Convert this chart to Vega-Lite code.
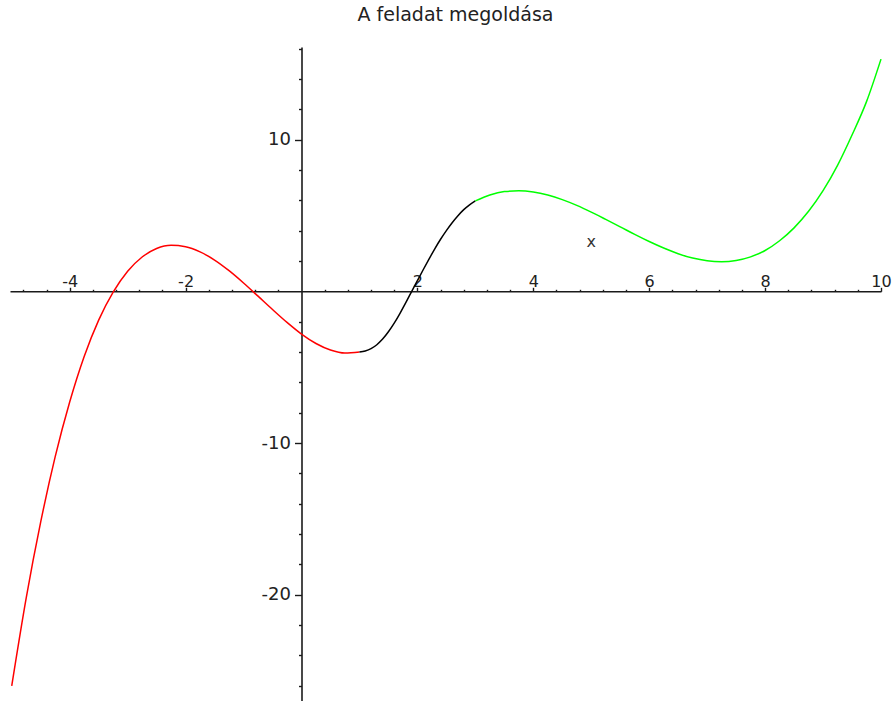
{
  "$schema": "https://vega.github.io/schema/vega-lite/v6.json",
  "width": 871,
  "height": 654,
  "autosize": {"type": "none"},
  "padding": {"left": 10, "top": 47, "right": 14, "bottom": 0},
  "background": "white",
  "title": {
    "text": "A feladat megoldása",
    "font": "DejaVu Sans",
    "fontSize": 19,
    "fontWeight": "normal",
    "color": "#222222",
    "anchor": "middle",
    "dx": 10,
    "offset": 22
  },
  "config": {"view": {"stroke": null}},
  "datasets": {
    "curves": [
      {"seg": "a", "x": -5, "y": -26.0},
      {"seg": "a", "x": -4.75, "y": -20.2},
      {"seg": "a", "x": -4.5, "y": -15.2},
      {"seg": "a", "x": -4.25, "y": -10.9},
      {"seg": "a", "x": -4, "y": -7.3},
      {"seg": "a", "x": -3.75, "y": -4.3},
      {"seg": "a", "x": -3.5, "y": -1.9},
      {"seg": "a", "x": -3.25, "y": -0.06},
      {"seg": "a", "x": -3, "y": 1.32},
      {"seg": "a", "x": -2.75, "y": 2.26},
      {"seg": "a", "x": -2.5, "y": 2.82},
      {"seg": "a", "x": -2.25, "y": 3.03},
      {"seg": "a", "x": -2, "y": 2.94},
      {"seg": "a", "x": -1.75, "y": 2.6},
      {"seg": "a", "x": -1.5, "y": 2.06},
      {"seg": "a", "x": -1.25, "y": 1.36},
      {"seg": "a", "x": -1, "y": 0.55},
      {"seg": "a", "x": -0.75, "y": -0.32},
      {"seg": "a", "x": -0.5, "y": -1.2},
      {"seg": "a", "x": -0.25, "y": -2.05},
      {"seg": "a", "x": 0, "y": -2.82},
      {"seg": "a", "x": 0.25, "y": -3.44},
      {"seg": "a", "x": 0.5, "y": -3.87},
      {"seg": "a", "x": 0.75, "y": -4.07},
      {"seg": "a", "x": 1, "y": -4.0},
      {"seg": "b", "x": 1, "y": -4.0},
      {"seg": "b", "x": 1.1, "y": -3.93},
      {"seg": "b", "x": 1.2, "y": -3.78},
      {"seg": "b", "x": 1.3, "y": -3.52},
      {"seg": "b", "x": 1.4, "y": -3.15},
      {"seg": "b", "x": 1.5, "y": -2.67},
      {"seg": "b", "x": 1.6, "y": -2.1},
      {"seg": "b", "x": 1.7, "y": -1.45},
      {"seg": "b", "x": 1.8, "y": -0.75},
      {"seg": "b", "x": 1.9, "y": -0.02},
      {"seg": "b", "x": 2.0, "y": 0.7},
      {"seg": "b", "x": 2.1, "y": 1.42},
      {"seg": "b", "x": 2.2, "y": 2.12},
      {"seg": "b", "x": 2.3, "y": 2.8},
      {"seg": "b", "x": 2.4, "y": 3.43},
      {"seg": "b", "x": 2.5, "y": 4.0},
      {"seg": "b", "x": 2.6, "y": 4.52},
      {"seg": "b", "x": 2.7, "y": 4.98},
      {"seg": "b", "x": 2.8, "y": 5.38},
      {"seg": "b", "x": 2.9, "y": 5.7},
      {"seg": "b", "x": 3.0, "y": 5.96},
      {"seg": "c", "x": 3.0, "y": 5.96},
      {"seg": "c", "x": 3.25, "y": 6.35},
      {"seg": "c", "x": 3.5, "y": 6.57},
      {"seg": "c", "x": 3.75, "y": 6.62},
      {"seg": "c", "x": 4.0, "y": 6.54},
      {"seg": "c", "x": 4.25, "y": 6.34},
      {"seg": "c", "x": 4.5, "y": 6.04},
      {"seg": "c", "x": 4.75, "y": 5.66},
      {"seg": "c", "x": 5.0, "y": 5.22},
      {"seg": "c", "x": 5.25, "y": 4.74},
      {"seg": "c", "x": 5.5, "y": 4.25},
      {"seg": "c", "x": 5.75, "y": 3.75},
      {"seg": "c", "x": 6.0, "y": 3.28},
      {"seg": "c", "x": 6.25, "y": 2.85},
      {"seg": "c", "x": 6.5, "y": 2.48},
      {"seg": "c", "x": 6.75, "y": 2.19},
      {"seg": "c", "x": 7.0, "y": 2.01},
      {"seg": "c", "x": 7.25, "y": 1.95},
      {"seg": "c", "x": 7.5, "y": 2.03},
      {"seg": "c", "x": 7.75, "y": 2.27},
      {"seg": "c", "x": 8.0, "y": 2.69},
      {"seg": "c", "x": 8.25, "y": 3.33},
      {"seg": "c", "x": 8.5, "y": 4.18},
      {"seg": "c", "x": 8.75, "y": 5.27},
      {"seg": "c", "x": 9.0, "y": 6.63},
      {"seg": "c", "x": 9.25, "y": 8.3},
      {"seg": "c", "x": 9.5, "y": 10.3},
      {"seg": "c", "x": 9.75, "y": 12.5},
      {"seg": "c", "x": 10.0, "y": 15.3}
    ],
    "labels": [
      {"text": "x", "x": 5.0, "y": 3.22}
    ]
  },
  "layer": [
    {
      "data": {"name": "curves"},
      "mark": {"type": "line", "strokeWidth": 1.5, "interpolate": "monotone"},
      "encoding": {
        "x": {
          "field": "x",
          "type": "quantitative",
          "scale": {"domain": [-5.03, 10], "nice": false, "zero": false},
          "axis": {
            "orient": "top",
            "offset": -244.3,
            "values": [-4, -2, 2, 4, 6, 8, 10],
            "labelExpr": "'' + datum.value",
            "title": null,
            "grid": false,
            "domain": true,
            "domainColor": "#1a1a1a",
            "domainWidth": 1.6,
            "ticks": true,
            "tickColor": "#1a1a1a",
            "tickWidth": 1.4,
            "tickSize": 4,
            "labelFont": "DejaVu Sans",
            "labelFontSize": 16,
            "labelColor": "#222222",
            "labelBaseline": "alphabetic",
            "labelPadding": 1,
            "labelFlush": false,
            "labelOverlap": false
          }
        },
        "y": {
          "field": "y",
          "type": "quantitative",
          "scale": {"domain": [-27, 16.1], "nice": false, "zero": false},
          "axis": {
            "orient": "left",
            "offset": -291.5,
            "values": [10, -10, -20],
            "labelExpr": "'' + datum.value",
            "title": null,
            "grid": false,
            "domain": true,
            "domainColor": "#1a1a1a",
            "domainWidth": 1.6,
            "ticks": true,
            "tickColor": "#1a1a1a",
            "tickWidth": 1.4,
            "tickSize": 7,
            "labelFont": "DejaVu Sans",
            "labelFontSize": 18,
            "labelColor": "#222222",
            "labelPadding": 4,
            "labelOverlap": false
          }
        },
        "color": {
          "field": "seg",
          "type": "nominal",
          "scale": {"domain": ["a", "b", "c"], "range": ["#ff0000", "#000000", "#00ff00"]},
          "legend": null
        }
      }
    },
    {
      "data": {"name": "labels"},
      "mark": {"type": "text", "font": "DejaVu Sans", "fontSize": 16, "color": "#333333", "baseline": "middle", "align": "center"},
      "encoding": {
        "x": {
          "field": "x",
          "type": "quantitative",
          "scale": {"domain": [-5.03, 10], "nice": false, "zero": false},
          "axis": {
            "orient": "top",
            "offset": -244.3,
            "values": [-4.8, -4.4, -3.6, -3.2, -2.8, -2.4, -1.6, -1.2, -0.8, -0.4, 0.4, 0.8, 1.2, 1.6, 2.4, 2.8, 3.2, 3.6, 4.4, 4.8, 5.2, 5.6, 6.4, 6.8, 7.2, 7.6, 8.4, 8.8, 9.2, 9.6],
            "title": null,
            "grid": false,
            "domain": false,
            "labels": false,
            "ticks": true,
            "tickColor": "#1a1a1a",
            "tickWidth": 1.4,
            "tickSize": 2
          }
        },
        "y": {
          "field": "y",
          "type": "quantitative",
          "scale": {"domain": [-27, 16.1], "nice": false, "zero": false},
          "axis": {
            "orient": "left",
            "offset": -291.5,
            "values": [16, 14, 12, 8, 6, 4, 2, -2, -4, -6, -8, -12, -14, -16, -18, -22, -24, -26],
            "title": null,
            "grid": false,
            "domain": false,
            "labels": false,
            "ticks": true,
            "tickColor": "#1a1a1a",
            "tickWidth": 1.4,
            "tickSize": 3
          }
        },
        "text": {"field": "text", "type": "nominal"}
      }
    }
  ],
  "resolve": {"axis": {"x": "independent", "y": "independent"}}
}
